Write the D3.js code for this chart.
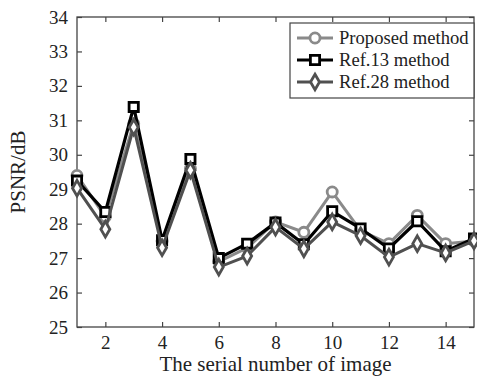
<!DOCTYPE html>
<html><head><meta charset="utf-8">
<script src="https://cdn.jsdelivr.net/npm/d3@7"></script>
<style>body{margin:0;background:#fff}svg{display:block}text{font-family:"Liberation Serif","Times New Roman",serif;fill:#222}</style>
</head><body><svg id="c" width="477" height="379"></svg>
<script>
const imageIndex = [1,2,3,4,5,6,7,8,9,10,11,12,13,14,15];
const proposed = [29.4,28.2,30.9,27.5,29.6,26.9,27.3,28.05,27.75,28.92,27.8,27.42,28.24,27.42,27.5];
const ref13    = [29.25,28.34,31.39,27.52,29.88,27.0,27.42,28.03,27.4,28.36,27.86,27.28,28.07,27.2,27.57];
const ref28    = [29.03,27.84,30.8,27.3,29.55,26.74,27.06,27.9,27.27,28.05,27.65,27.03,27.42,27.15,27.5];
const xTicks = [2,4,6,8,10,12,14];
const yTicks = [25,26,27,28,29,30,31,32,33,34];
const seriesNames = ["Proposed method","Ref.13 method","Ref.28 method"];

const L=77,R=474,T=17,B=327;
const svg=d3.select("#c");
const x=d3.scaleLinear().domain([1,15]).range([L,R]);
const y=d3.scaleLinear().domain([25,34]).range([B,T]);

const ax=svg.append("g");
const tickLen=5;
ax.append("g").attr("transform",`translate(0,${B})`).call(d3.axisBottom(x).tickValues(xTicks).tickSizeInner(-tickLen).tickSizeOuter(0).tickPadding(9));
ax.append("g").attr("transform",`translate(0,${T})`).call(d3.axisTop(x).tickValues(xTicks).tickSizeInner(-tickLen).tickSizeOuter(0).tickFormat(""));
ax.append("g").attr("transform",`translate(${L},0)`).call(d3.axisLeft(y).tickValues(yTicks).tickSizeInner(-tickLen).tickSizeOuter(0).tickPadding(9));
ax.append("g").attr("transform",`translate(${R},0)`).call(d3.axisRight(y).tickValues(yTicks).tickSizeInner(-tickLen).tickSizeOuter(0).tickFormat(""));
ax.selectAll(".domain").remove();
ax.selectAll(".tick line").attr("stroke","#444").attr("stroke-width",1.2);
ax.selectAll(".tick text").style("font-size","19px").attr("fill","#222").style("font-family","'Liberation Serif',serif");
svg.append("rect").attr("x",L).attr("y",T).attr("width",R-L).attr("height",B-T).attr("fill","none").attr("stroke","#444").attr("stroke-width",1.3);

const styles=[
 {data:proposed,color:"#8a8a8a",w:3,shape:"circle"},
 {data:ref13,color:"#000",w:3.2,shape:"square"},
 {data:ref28,color:"#505050",w:3,shape:"diamond"}
];
const sym={circle:d3.symbol(d3.symbolCircle,80),square:d3.symbol(d3.symbolSquare,85),diamond:d3.symbol(d3.symbolDiamond,70)};
const line=d3.line().x((d,i)=>x(imageIndex[i])).y(d=>y(d));
const plot=svg.append("g");
styles.forEach(s=>{
  plot.append("path").attr("d",line(s.data)).attr("fill","none").attr("stroke",s.color).attr("stroke-width",s.w).attr("stroke-linejoin","round");
  plot.selectAll(null).data(s.data).enter().append("path")
   .attr("d",sym[s.shape]).attr("transform",(d,i)=>`translate(${x(imageIndex[i])},${y(d)})`)
   .attr("fill","#fff").attr("stroke",s.color).attr("stroke-width",2.8);
});

const lg=svg.append("g");
lg.append("rect").attr("x",290).attr("y",23).attr("width",184).attr("height",75).attr("fill","#fff").attr("stroke","#444").attr("stroke-width",1.2);
const ly=[38,60,82];
styles.forEach((s,i)=>{
  lg.append("line").attr("x1",297).attr("x2",333).attr("y1",ly[i]).attr("y2",ly[i]).attr("stroke",s.color).attr("stroke-width",s.w);
  lg.append("path").attr("d",sym[s.shape]).attr("transform",`translate(315,${ly[i]})`).attr("fill","#fff").attr("stroke",s.color).attr("stroke-width",2.8);
  lg.append("text").attr("x",339).attr("y",ly[i]+6).style("font-size","18.6px").text(seriesNames[i]);
});

svg.append("text").attr("x",(L+R)/2).attr("y",371).attr("text-anchor","middle").style("font-size","21px").text("The serial number of image");
svg.append("text").attr("transform","translate(25,172) rotate(-90)").attr("text-anchor","middle").style("font-size","21px").text("PSNR/dB");
</script></body></html>
